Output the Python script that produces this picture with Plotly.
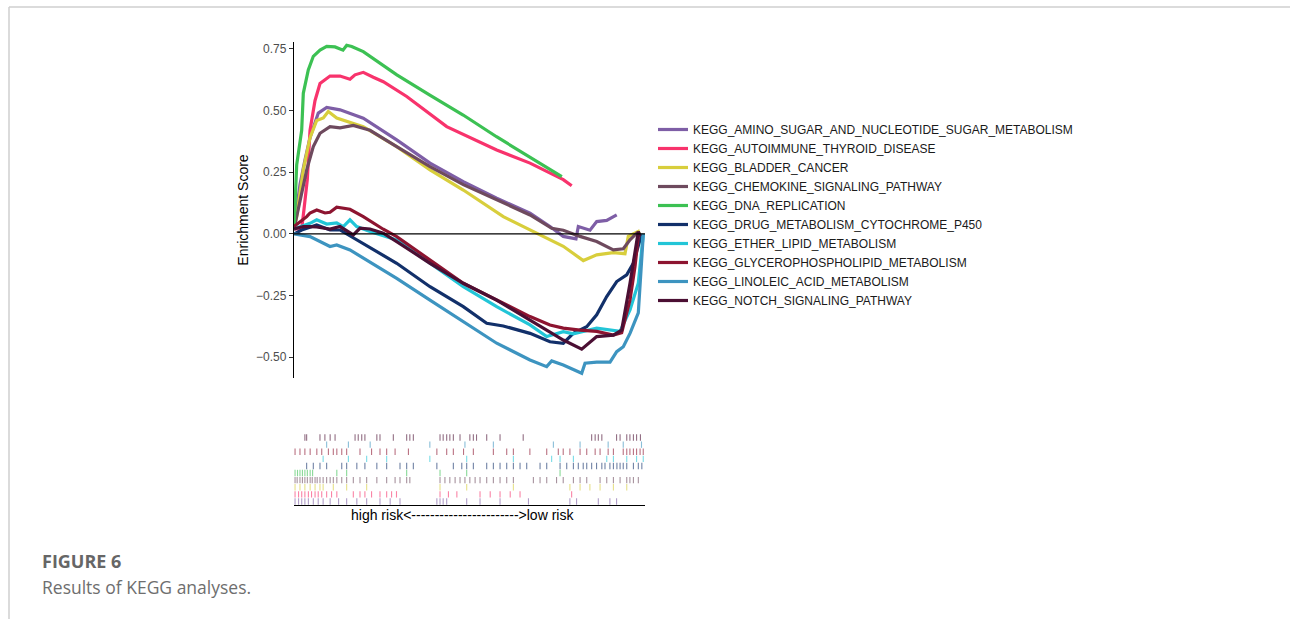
import plotly.graph_objects as go

W, H = 1290, 619

# Gene-set names, colours and running enrichment scores (x = position in ranked list, 0-100)
pathways = [
    "KEGG_AMINO_SUGAR_AND_NUCLEOTIDE_SUGAR_METABOLISM",
    "KEGG_AUTOIMMUNE_THYROID_DISEASE",
    "KEGG_BLADDER_CANCER",
    "KEGG_CHEMOKINE_SIGNALING_PATHWAY",
    "KEGG_DNA_REPLICATION",
    "KEGG_DRUG_METABOLISM_CYTOCHROME_P450",
    "KEGG_ETHER_LIPID_METABOLISM",
    "KEGG_GLYCEROPHOSPHOLIPID_METABOLISM",
    "KEGG_LINOLEIC_ACID_METABOLISM",
    "KEGG_NOTCH_SIGNALING_PATHWAY",
]
colors = ["#7E5EA6", "#F8336C", "#D8CE3C", "#6E4A5E", "#3CC153",
          "#12306A", "#22C5D7", "#8D1430", "#3D94C0", "#4B0F33"]

amino_x = [0, 1.71, 3.13, 4.56, 6.92, 9.32, 13.11, 19.74, 29.26, 38.75, 48.23, 57.75,
           67.24, 72.93, 76.72, 79.57, 80.34, 81.0, 82.34, 84.33, 86.24, 89.09, 91.94]
amino_y = [0.02, 0.2, 0.3, 0.39, 0.49, 0.513, 0.503, 0.469, 0.381, 0.287, 0.212, 0.145,
           0.084, 0.03, -0.01, -0.02, -0.02, 0.03, 0.025, 0.015, 0.05, 0.055, 0.077]

autoimmune_x = [0, 2.19, 2.85, 3.79, 4.56, 5.98, 7.41, 8.83, 10.26, 13.11, 15.95, 17.38,
                19.74, 22.59, 25.44, 32.11, 43.5, 57.75, 67.24, 76.72, 79.12]
autoimmune_y = [0.02, 0.02, 0.1, 0.22, 0.42, 0.54, 0.61, 0.625, 0.64, 0.64, 0.627, 0.645,
                0.655, 0.635, 0.617, 0.557, 0.435, 0.34, 0.287, 0.22, 0.195]

bladder_x = [0, 0.77, 2.65, 4.56, 6.47, 8.35, 9.77, 12.17, 19.74, 29.26, 38.75, 48.23,
             59.63, 67.24, 76.72, 82.42, 86.24, 90.97, 94.3, 95.24, 98.09, 98.58]
bladder_y = [0.02, 0.07, 0.26, 0.39, 0.46, 0.47, 0.496, 0.47, 0.435, 0.354, 0.26, 0.178,
             0.07, 0.016, -0.05, -0.108, -0.085, -0.076, -0.08, -0.01, 0.01, -0.01]

chemokine_x = [0, 0.77, 3.62, 5.5, 7.41, 10.26, 13.11, 16.89, 21.65, 29.26, 38.75, 48.23,
               57.75, 67.24, 73.42, 76.72, 81.48, 86.24, 90.97, 93.82, 95.73, 97.64, 98.58]
chemokine_y = [0.02, 0.07, 0.26, 0.354, 0.408, 0.435, 0.43, 0.44, 0.42, 0.354, 0.273, 0.2,
               0.138, 0.077, 0.023, 0.015, -0.01, -0.031, -0.065, -0.06, -0.024, 0.003, 0.0]

dna_x = [0, 0.77, 2.19, 2.65, 4.07, 5.5, 7.41, 9.32, 11.68, 13.96, 15.01, 16.44, 19.74,
         24.5, 29.3, 38.7, 48.2, 57.7, 67.2, 76.3]
dna_y = [0.02, 0.28, 0.42, 0.57, 0.665, 0.72, 0.745, 0.76, 0.758, 0.745, 0.765, 0.76, 0.739,
         0.692, 0.645, 0.563, 0.482, 0.394, 0.313, 0.232]

drug_x = [0, 1.71, 2.19, 6.47, 10.26, 13.11, 17.86, 24.5, 29.26, 38.75, 48.23, 54.9, 59.63,
          67.24, 72.93, 76.72, 79.57, 83.39, 86.24, 89.09, 91.94, 94.79, 96.67, 98.58, 99.1]
drug_y = [0.0, 0.01, 0.016, 0.036, 0.016, 0.016, -0.024, -0.078, -0.119, -0.214, -0.295,
          -0.362, -0.373, -0.403, -0.437, -0.443, -0.403, -0.376, -0.328, -0.254, -0.193,
          -0.166, -0.119, -0.024, 0.0]

ether_x = [0, 4.56, 6.47, 9.32, 12.17, 14.05, 15.95, 17.86, 21.65, 29.26, 38.75, 48.23,
           57.75, 67.24, 71.99, 76.72, 79.57, 86.24, 92.88, 95.73, 98.09, 99.06, 99.52]
ether_y = [0.02, 0.043, 0.057, 0.04, 0.045, 0.03, 0.057, 0.03, 0.01, -0.024, -0.119, -0.214,
           -0.295, -0.369, -0.416, -0.396, -0.405, -0.382, -0.395, -0.308, -0.2, -0.065, 0.0]

glycero_x = [0, 3.62, 4.56, 6.47, 8.83, 10.26, 12.17, 15.95, 19.74, 25.44, 29.26, 38.75,
             48.23, 57.75, 67.24, 72.93, 76.72, 81.48, 86.24, 90.97, 93.36, 95.73, 97.15,
             98.09, 98.58]
glycero_y = [0.03, 0.07, 0.085, 0.097, 0.085, 0.088, 0.108, 0.1, 0.07, 0.019, -0.011, -0.105,
             -0.2, -0.268, -0.335, -0.369, -0.382, -0.39, -0.395, -0.41, -0.4, -0.268,
             -0.132, -0.011, 0.0]

linoleic_x = [0, 4.56, 10.26, 12.17, 15.95, 19.74, 29.26, 38.75, 48.23, 57.75, 67.24, 71.99,
              73.42, 76.72, 81.97, 82.91, 86.24, 90.03, 91.94, 93.82, 95.73, 98.09, 99.52]
linoleic_y = [0.0, -0.011, -0.051, -0.045, -0.065, -0.098, -0.18, -0.268, -0.355, -0.443,
              -0.511, -0.538, -0.515, -0.531, -0.565, -0.524, -0.52, -0.52, -0.477, -0.457,
              -0.403, -0.32, 0.0]

notch_x = [0, 2.65, 4.56, 6.47, 10.26, 13.11, 16.89, 18.8, 21.65, 25.44, 29.26, 38.75,
           48.23, 57.75, 67.24, 76.72, 81.97, 84.33, 86.24, 90.97, 93.36, 95.73, 97.15,
           98.09, 98.58]
notch_y = [0.02, 0.03, 0.03, 0.028, 0.02, 0.03, -0.004, 0.023, 0.02, 0.003, -0.031, -0.119,
           -0.2, -0.268, -0.349, -0.43, -0.467, -0.44, -0.416, -0.41, -0.39, -0.2, -0.065,
           0.01, -0.01]

# Positions of the member genes of each set in the ranked list
amino_hits = [0.3, 1.3, 2.2, 3.1, 4.1, 5.5, 6.9, 8.3, 10.3, 12.7, 15.0, 17.9, 20.7, 24.5,
              27.4, 30.2, 40.7, 41.6, 42.5, 43.5, 49.2, 53.0, 58.7, 66.8, 78.6, 80.5, 86.7,
              90.0, 91.9]
autoimmune_hits = [0.3, 1.3, 2.2, 3.1, 4.1, 5.0, 6.0, 6.9, 7.9, 9.3, 10.7, 12.2, 16.9, 18.8,
                   20.2, 22.1, 24.5, 26.4, 27.8, 29.2, 41.6, 44.0, 46.4, 53.0, 55.9, 58.7,
                   61.6, 64.4, 79.1]
bladder_hits = [0.3, 1.7, 3.1, 4.6, 6.0, 7.4, 8.3, 11.2, 15.0, 20.7, 41.6, 49.2, 62.5, 78.6,
                81.5, 84.3, 87.2, 91.0, 94.8]
chemokine_hits = [0.3, 0.9, 1.7, 2.4, 3.1, 3.8, 4.6, 5.2, 6.0, 6.6, 7.4, 8.3, 9.3, 10.3, 11.2,
                  12.2, 13.6, 15.0, 16.9, 18.8, 20.7, 23.6, 26.4, 28.8, 30.2, 32.1, 33.0,
                  41.6, 43.0, 44.4, 45.9, 47.3, 48.7, 50.1, 51.6, 53.0, 54.9, 56.8, 58.7,
                  60.6, 62.5, 68.2, 70.1, 72.0, 74.8, 76.7, 79.6, 81.5, 83.4, 87.2, 89.1,
                  91.0, 92.9, 94.8, 95.7, 96.7, 98.1]
dna_hits = [0.3, 1.0, 1.7, 2.4, 3.1, 3.8, 4.6, 5.3, 12.2, 15.0, 32.1, 41.6, 49.2, 75.8]
drug_hits = [3.6, 5.5, 7.4, 9.3, 13.6, 15.0, 17.9, 20.2, 23.6, 26.4, 30.2, 32.1, 34.0, 40.7,
             45.4, 47.8, 49.2, 51.1, 54.9, 56.8, 58.7, 60.6, 62.5, 64.4, 66.3, 70.1, 72.0,
             75.8, 77.7, 79.6, 81.0, 82.4, 83.4, 84.8, 86.2, 87.7, 88.6, 90.0, 91.0, 92.0,
             92.9, 93.8, 94.8, 96.7, 98.1, 99.1]
ether_hits = [8.3, 15.5, 20.7, 26.4, 38.7, 49.2, 62.5, 73.4, 75.8, 79.6, 89.1, 91.0, 94.8,
              97.6, 99.5]
glycero_hits = [0.3, 1.7, 3.1, 4.6, 6.5, 7.9, 9.8, 11.2, 12.2, 13.6, 15.0, 18.8, 22.1, 24.5,
                26.4, 28.8, 32.6, 40.7, 43.5, 45.4, 48.3, 51.1, 56.8, 60.6, 62.5, 67.2, 72.0,
                75.3, 76.7, 78.6, 81.5, 83.4, 85.8, 87.2, 89.5, 91.0, 93.8, 94.8, 95.7, 96.7,
                97.6, 98.6, 99.5]
linoleic_hits = [9.3, 15.5, 21.7, 38.7, 48.7, 56.8, 73.9, 81.5, 89.5, 93.8, 99.0]
notch_hits = [3.1, 3.6, 7.4, 8.8, 10.3, 11.7, 17.4, 18.3, 19.3, 20.2, 23.6, 24.5, 28.3, 32.1,
              33.0, 34.0, 41.6, 42.5, 43.5, 44.4, 45.4, 47.3, 50.1, 51.1, 52.0, 54.9, 58.7,
              65.3, 84.8, 85.8, 86.7, 87.7, 91.9, 92.9, 94.8, 95.7, 96.7, 97.6, 98.7]

es_x = [amino_x, autoimmune_x, bladder_x, chemokine_x, dna_x,
        drug_x, ether_x, glycero_x, linoleic_x, notch_x]
es_y = [amino_y, autoimmune_y, bladder_y, chemokine_y, dna_y,
        drug_y, ether_y, glycero_y, linoleic_y, notch_y]
hits = [amino_hits, autoimmune_hits, bladder_hits, chemokine_hits, dna_hits,
        drug_hits, ether_hits, glycero_hits, linoleic_hits, notch_hits]

y_ticks = [-0.5, -0.25, 0.0, 0.25, 0.5, 0.75]
x_label = "high risk<" + "-" * 23 + ">low risk"


def px_x(p):
    return p / W


def px_y(p):
    return 1 - p / H


fig = go.Figure()

# Running enrichment score curves
for name, col, xs, ys in zip(pathways, colors, es_x, es_y):
    fig.add_trace(go.Scatter(
        x=xs, y=ys, mode="lines", name=name,
        line=dict(color=col, width=3.2),
        xaxis="x", yaxis="y",
    ))

# Hit rug: one row per gene set, first set at the bottom
for row, (col, pos) in enumerate(zip(colors, hits)):
    xs, ys = [], []
    for p in pos:
        xs += [p, p, None]
        ys += [row + 0.05, row + 0.95, None]
    fig.add_trace(go.Scatter(
        x=xs, y=ys, mode="lines", showlegend=False, hoverinfo="skip",
        line=dict(color=col, width=1.1), opacity=0.6,
        xaxis="x2", yaxis="y2",
    ))

x_dom = [px_x(294), px_x(645)]

fig.update_layout(
    width=W, height=H,
    margin=dict(l=0, r=0, t=0, b=0),
    paper_bgcolor="white", plot_bgcolor="white",
    font=dict(family="Liberation Sans, Arial, sans-serif", color="#000000"),
    xaxis=dict(domain=x_dom, range=[0, 100], visible=False, anchor="y"),
    yaxis=dict(
        domain=[px_y(378), px_y(42)], range=[-0.584, 0.778], anchor="x",
        tickvals=y_ticks, tickformat=".2f",
        showline=True, linecolor="#000000", linewidth=1.3,
        ticks="outside", ticklen=4, tickwidth=1.1, tickcolor="#333333",
        tickfont=dict(size=12, color="#4D4D4D"),
        showgrid=False, zeroline=False,
        title=dict(text="Enrichment Score", font=dict(size=14, color="#000000"), standoff=4),
    ),
    xaxis2=dict(
        domain=x_dom, range=[0, 100], anchor="y2",
        showline=True, linecolor="#000000", linewidth=1.3,
        showticklabels=False, ticks="", showgrid=False, zeroline=False,
    ),
    yaxis2=dict(
        domain=[px_y(505), px_y(434)], range=[0, 10], anchor="x2",
        visible=False,
    ),
    legend=dict(
        x=px_x(653), xanchor="left", y=px_y(115), yanchor="top",
        font=dict(size=12, color="#1A1A1A"),
        bgcolor="rgba(0,0,0,0)", traceorder="normal",
    ),
    showlegend=True,
)

# Rank-direction label under the rug
fig.add_annotation(text=x_label, xref="paper", yref="paper",
                   x=px_x(462), y=px_y(515), xanchor="center", yanchor="middle",
                   showarrow=False, font=dict(size=14, color="#000000"))

# Horizontal reference line at ES = 0
fig.add_shape(type="line", xref="x", yref="y", x0=0, x1=100, y0=0, y1=0,
              line=dict(color="#000000", width=1.3))

# Card border
fig.add_shape(type="line", xref="paper", yref="paper",
              x0=px_x(9), x1=1, y0=px_y(7), y1=px_y(7),
              line=dict(color="#CFCFCF", width=1.5))
fig.add_shape(type="line", xref="paper", yref="paper",
              x0=px_x(9), x1=px_x(9), y0=px_y(7), y1=0,
              line=dict(color="#CFCFCF", width=1.5))

# Caption
fig.add_annotation(text="<b>FIGURE 6</b>", xref="paper", yref="paper",
                   x=px_x(40), y=px_y(561), xanchor="left", yanchor="middle",
                   showarrow=False, font=dict(family="Open Sans, sans-serif",
                                              size=18, color="#666666"))
fig.add_annotation(text="Results of KEGG analyses.", xref="paper", yref="paper",
                   x=px_x(40), y=px_y(587), xanchor="left", yanchor="middle",
                   showarrow=False, font=dict(family="Open Sans, sans-serif",
                                              size=17.5, color="#6E6E6E"))

fig.write_html("out.html")
